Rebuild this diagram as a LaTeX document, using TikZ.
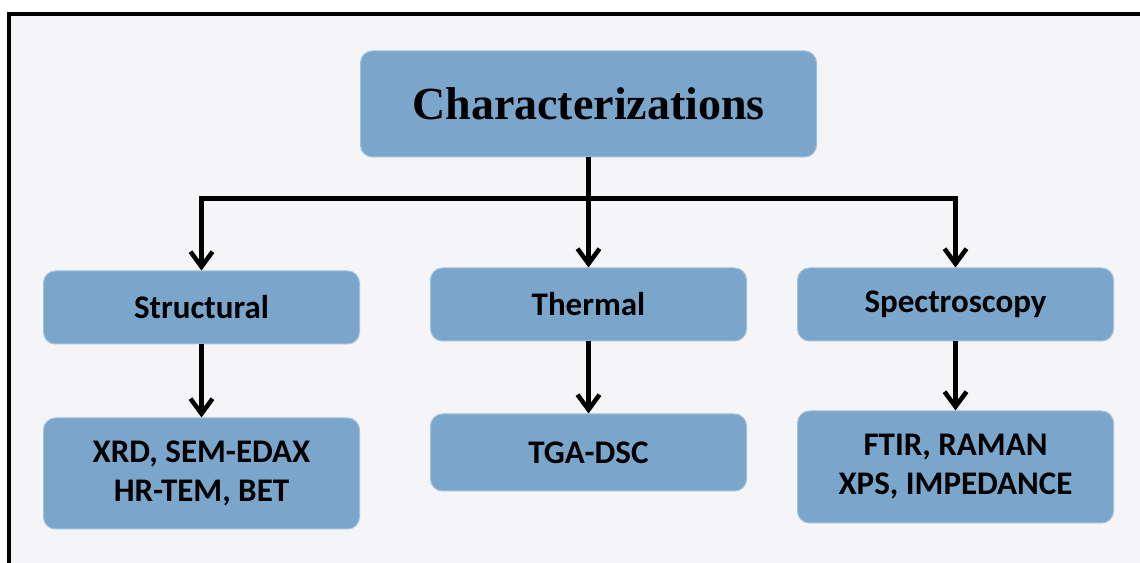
\documentclass[tikz,border=0pt]{standalone}
\usepackage{fontspec}
\setmainfont{Carlito}
\newfontfamily\titlefont{Liberation Serif}
\usetikzlibrary{arrows.meta, positioning}
\definecolor{boxblue}{RGB}{122,166,204}
\definecolor{pagegray}{RGB}{245,245,248}

\begin{document}
\begin{tikzpicture}[
    x=1pt, y=1pt,
    node distance=70pt,
    box/.style={rectangle, draw=boxblue!70!white, line width=1pt, fill=boxblue, rounded corners=12pt, align=center, inner sep=0pt, minimum width=316pt, minimum height=73pt, font=\bfseries\fontsize{33}{39}\selectfont},
    arrow/.style={-{Straight Barb[length=15pt, width=22pt]}, line width=4.5pt}
]
\useasboundingbox (0,0) rectangle (1140,562);
\begin{scope}
\clip (0,0) rectangle (1140,562);
\draw[line width=4pt, fill=pagegray] (9,547.7) rectangle (1160,-20);
\end{scope}

\node[box, minimum width=456pt, minimum height=106pt, font=\titlefont\bfseries\fontsize{46}{52}\selectfont] (chars) at (588.5,458) {Characterizations};
\node[box, below=110pt of chars] (thermal) {Thermal};
\node[box, left=of thermal, yshift=-3pt] (struct) {Structural};
\node[box, right=50pt of thermal] (spectro) {Spectroscopy};

\node[box, below=73pt of struct, minimum height=111pt] (structtech) {XRD, SEM-EDAX\\HR-TEM, BET};
\node[box, below=72pt of thermal, minimum height=77pt] (thermaltech) {TGA-DSC};
\node[box, below=69pt of spectro, minimum height=112pt] (spectrotech) {FTIR, RAMAN\\XPS, IMPEDANCE};

\draw[line width=4.5pt] (chars.south) -- ++(0,-41) coordinate (hub);
\draw[arrow] (hub) -| (struct.north);
\draw[arrow] (hub) -- (thermal.north);
\draw[arrow] (hub) -| (spectro.north);

\draw[arrow] (struct) -- (structtech);
\draw[arrow] (thermal) -- (thermaltech);
\draw[arrow] (spectro) -- (spectrotech);
\end{tikzpicture}
\end{document}
